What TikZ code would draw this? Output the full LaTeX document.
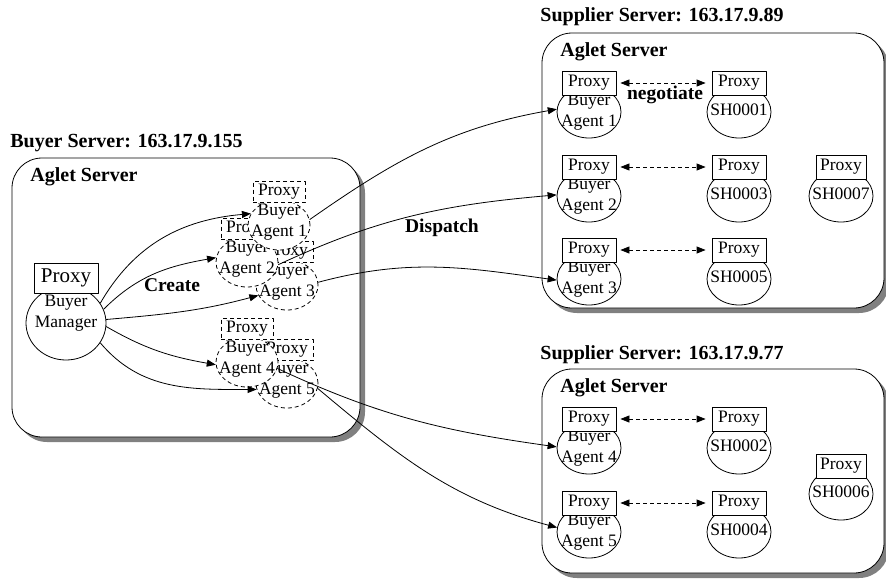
\documentclass[tikz,border=0pt]{standalone}
\usepackage{fontspec}
\setmainfont{Liberation Serif}
\usetikzlibrary{shapes.geometric,arrows.meta,positioning}
\tikzset{
  txt/.style={font=\fontsize{17.5}{21}\selectfont, align=center, inner sep=0pt},
  hd/.style={font=\fontsize{20}{24}\selectfont\bfseries, anchor=west, inner sep=0pt},
  lbl/.style={font=\fontsize{19.5}{23}\selectfont\bfseries, inner sep=0pt},
  srv/.style={draw, fill=white, rounded corners=30pt},
  srvshade/.style={fill=black!50, rounded corners=30pt},
  agent/.style={ellipse, draw, fill=white, minimum width=64pt, minimum height=52pt, inner sep=0pt},
  proxy/.style={draw, fill=white, minimum width=54pt, minimum height=24pt, inner sep=0pt, font=\fontsize{17.5}{21}\selectfont},
  clone/.style={agent, dash pattern=on 4pt off 3pt, minimum width=62pt, minimum height=50pt},
  cproxy/.style={proxy, dash pattern=on 4pt off 3pt, minimum width=52pt, minimum height=21pt},
  talk/.style={<->, dash pattern=on 4pt off 3pt, shorten <=4pt, shorten >=6pt},
}
\begin{document}
\begin{tikzpicture}[x=1pt, y=-1pt, line width=0.8pt, line join=round, >={Triangle[length=9pt,width=7pt]}]
  \useasboundingbox (0,0) rectangle (886,579);
  % server boxes
  \fill[srvshade] (17,163) rectangle (365,442);
  \draw[srv] (12,158) rectangle (360,437);
  \fill[srvshade] (547,38) rectangle (889,313);
  \draw[srv] (542,33) rectangle (884,308);
  \fill[srvshade] (547,374) rectangle (889,578);
  \draw[srv] (542,369) rectangle (884,573);
  \node[hd] (bsrv) at (10,143) {Buyer Server: 163.17.9.155};
  \node[hd] (baglet) at (30,177) {Aglet Server};
  \node[hd] (ssrv1) at (540,17) {Supplier Server: 163.17.9.89};
  \node[hd] (saglet1) at (560,52) {Aglet Server};
  \node[hd] (ssrv2) at (540,355) {Supplier Server: 163.17.9.77};
  \node[hd] (saglet2) at (560,388) {Aglet Server};

  % buyer manager
  \node[agent, minimum width=80pt, minimum height=74pt] (bm) at (66,323) {};
  \node[txt] (bmt) at (66,313) {Buyer\\Manager};
  \node[proxy, minimum width=64pt, minimum height=30pt, font=\fontsize{21}{24}\selectfont] (bmp) at ([yshift=45pt]bm.center) {Proxy};

  % cloned agents (back to front)
  \foreach \n/\x/\y/\m in {3/287/285/3, 2/247/262/2, 1/279/225/1, 5/287/383/5, 4/247/362/4} {
    \node[clone] (ba\n) at (\x,\y) {};
    \node[txt] (bat\n) at ([yshift=3pt]ba\n.center) {Buyer\\Agent \m};
    \node[cproxy] (bap\n) at ([yshift=33pt]ba\n.center) {Proxy};
  }

  % supplier side
  \foreach \n/\y/\s in {1/112/SH0001, 2/196/SH0003, 3/279/SH0005, 4/448/SH0002, 5/532/SH0004} {
    \node[agent] (sa\n) at (589,\y) {};
    \node[txt] (sat\n) at (sa\n) {Buyer\\Agent \n};
    \node[proxy] (sap\n) at ([yshift=29pt]sa\n.center) {Proxy};
    \node[agent] (sh\n) at (739,\y) {};
    \node[txt] (sht\n) at ([yshift=2pt]sh\n.center) {\s};
    \node[proxy] (shp\n) at ([yshift=29pt]sh\n.center) {Proxy};
    \draw[talk] (sap\n) -- (shp\n);
  }
  \node[agent] (sh7) at (841,196) {};
  \node[txt] (sht7) at ([yshift=2pt]sh7.center) {SH0007};
  \node[proxy, minimum width=50pt] (shp7) at ([yshift=29pt]sh7.center) {Proxy};
  \node[agent] (sh6) at (841,494) {};
  \node[txt] (sht6) at ([yshift=2pt]sh6.center) {SH0006};
  \node[proxy, minimum width=50pt] (shp6) at ([yshift=28pt]sh6.center) {Proxy};

  % create
  \draw[->] (bm.30) to[out=60, in=185] (ba1.158);
  \draw[->] (bm.20) to[out=45, in=190] (ba2.172);
  \draw[->] (bm.5) to[out=5, in=195] (ba3.200);
  \draw[->] (bm.-5) to[out=-30, in=170] (ba4.185);
  \draw[->] (bm.-30) to[out=-50, in=180] (ba5.192);

  % dispatch
  \draw[->] (ba1.10) to[out=35, in=190] (sa1.175);
  \draw[->] (ba2.-5) to[out=25, in=185] (sa2.178);
  \draw[->] (ba3.5) to[out=15, in=172] (sa3.182);
  \draw[->] (ba4.-12) to[out=-25, in=172] (sa4.178);
  \draw[->] (ba5.-10) to[out=-40, in=165] (sa5.172);

  \node[lbl] (create) at (172,285) {Create};
  \node[lbl] (dispatch) at (442,228) {Dispatch};
  \node[lbl] (negotiate) at (665,95) {negotiate};
\end{tikzpicture}
\end{document}
